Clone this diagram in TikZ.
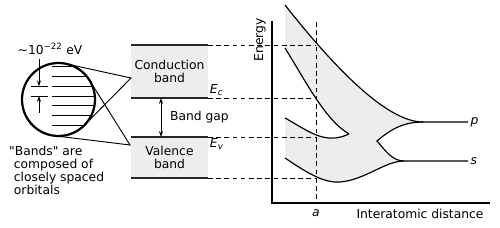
\documentclass[tikz,border=0pt]{standalone}
\usepackage{fontspec}
\setmainfont{DejaVu Sans}[Ligatures=TeXOff]
\usetikzlibrary{arrows.meta,calc}

\begin{document}
\begin{tikzpicture}[x=0.03cm, y=-0.03cm, every node/.style={font=\fontsize{10.5}{11}\selectfont}, band/.style={fill=black!7, inner sep=0pt, outer sep=0pt, minimum width=2.31cm, align=center}, bandedge/.style={line width=1.6pt, black!85}, guide/.style={dash pattern=on 4pt off 3pt, line width=0.8pt}, curve/.style={line width=1pt}, tip/.style={-{Stealth[length=5pt,width=3.5pt]}, line width=0.8pt}]
\useasboundingbox (0,0) rectangle (500,228);
% zoomed view of a band
\node[circle, draw, line width=1.9pt, minimum size=2.19cm, inner sep=0pt, outer sep=0pt] (lens) at (58.5,99.5) {};
\begin{scope}
\clip (58.5,99.5) circle[radius=36.5];
\foreach \i in {0,...,6}
  \draw[line width=0.8pt] (52,{66.5+9.83*\i}) -- (100,{66.5+9.83*\i});
\end{scope}
\draw[line width=0.8pt] (31,86.2) -- (48,86.2) (31,96) -- (48,96);
\coordinate (lvlhi) at (39,86.2);
\coordinate (lvllo) at (39,96);
\node (evlbl) at (50,49) {∼10\textsuperscript{−22} eV};
\draw[tip] (evlbl.south -| lvlhi) -- (lvlhi);
\draw[tip] ([yshift=-0.5cm]lvllo) -- (lvllo);
\node[anchor=north west, align=left, inner sep=0pt] (note) at (9,146) {"Bands" are\\\hspace*{4pt}composed of\\\hspace*{4pt}closely spaced\\\hspace*{4pt}orbitals};
% bands
\node[band, minimum height=1.59cm] (cb) at (169.5,71.5) {Conduction\\band};
\node[band, minimum height=1.23cm] (vb) at (169.5,157.5) {Valence\\band};
\foreach \b in {cb,vb}
  \draw[bandedge] (\b.north west) -- (\b.north east) (\b.south west) -- (\b.south east);
\coordinate (cbtip) at (131,78);
\coordinate (vbtip) at (130,145);
\draw[line width=0.8pt] (tangent cs:node=lens,point={(cbtip)},solution=1) -- (cbtip) -- (tangent cs:node=lens,point={(cbtip)},solution=2);
\draw[line width=0.8pt] (tangent cs:node=lens,point={(vbtip)},solution=1) -- (vbtip) -- (tangent cs:node=lens,point={(vbtip)},solution=2);
\coordinate (gapx) at (161,0);
\draw[{Stealth[length=5pt,width=3.5pt]}-{Stealth[length=5pt,width=3.5pt]}, line width=0.8pt] (cb.south -| gapx) -- (vb.north -| gapx);
\node[anchor=west] (gaplbl) at (166,117) {Band gap};
\node[anchor=south west, inner sep=1.5pt] (eclbl) at (cb.south east) {\textit{E\textsubscript{c}}};
\node[anchor=north west, inner sep=1.5pt] (evlbl2) at (vb.north east) {\textit{E\textsubscript{v}}};
% energy diagram
\coordinate (origin) at (272,203);
\coordinate (atop) at (316,22);
\fill[black!7] (285,5) .. controls (330,62) and (385,122) .. (423,122)
  .. controls (405,122) and (392,128) .. (377,141)
  .. controls (385,150) and (392,161) .. (404,161)
  .. controls (385,161) and (365,180) .. (340,182)
  .. controls (325,183) and (310,175) .. (285,158)
  -- (285,118) .. controls (310,132) and (325,145) .. (349,134)
  .. controls (325,120) and (305,80) .. (285,48) -- cycle;
\foreach \b in {cb,vb}
  \draw[guide] (\b.north east) -- (\b.north east -| atop) (\b.south east) -- (\b.south east -| atop);
\draw[guide] (atop) -- (atop |- origin);
\node[anchor=west, inner sep=2pt] (plbl) at (468,122) {\textit{p}};
\node[anchor=west, inner sep=2pt] (slbl) at (468,161) {\textit{s}};
\draw[curve] (285,5) .. controls (330,62) and (385,122) .. (423,122) -- (plbl.west);
\draw[curve] (423,122) .. controls (405,122) and (392,128) .. (377,141)
  .. controls (385,150) and (392,161) .. (404,161) -- (slbl.west);
\draw[curve] (285,158) .. controls (310,175) and (325,183) .. (340,182)
  .. controls (365,180) and (385,161) .. (404,161);
\draw[curve] (285,48) .. controls (305,80) and (325,120) .. (349,134);
\draw[curve] (285,118) .. controls (310,132) and (325,145) .. (349,134);
\draw[line width=2pt] (272,21) -- (origin) -- (490,203);
\node[rotate=90] (ylbl) at (260,40) {Energy};
\node (albl) at (316,213) {\textit{a}};
\node (xlbl) at (420,214) {Interatomic distance};
\end{tikzpicture}
\end{document}
